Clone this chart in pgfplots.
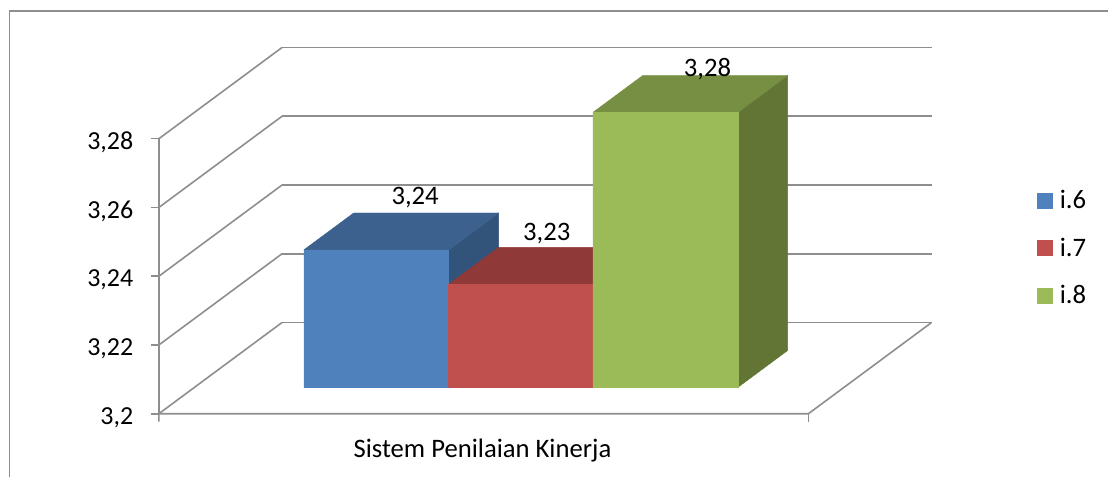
\documentclass[border=0pt]{standalone}
\usepackage{pgfplots}
\pgfplotsset{compat=1.18}
\usepackage{fontspec}
\setmainfont{Carlito}
\usetikzlibrary{calc}
\definecolor{gridc}{HTML}{8E8E8E}
\definecolor{blueF}{HTML}{4F81BD}\definecolor{blueT}{HTML}{3D618E}\definecolor{blueS}{HTML}{32547B}
\definecolor{redF}{HTML}{C0504D}\definecolor{redT}{HTML}{8F3938}\definecolor{redS}{HTML}{7A302E}
\definecolor{greenF}{HTML}{9BBB59}\definecolor{greenT}{HTML}{768F43}\definecolor{greenS}{HTML}{637535}
\begin{document}
\begin{tikzpicture}[x=0.75pt,y=0.75pt]
\begin{axis}[
  x={(0.75pt,0pt)}, y={(92.475pt,68.475pt)}, z={(0pt,2580pt)},
  xmin=0, xmax=650, ymin=0, ymax=1, zmin=3.2, zmax=3.28,
  clip=false,
  axis line style={draw=none},
  ytick=\empty,
  xtick=\empty,
  extra x ticks={324}, extra x tick labels={Sistem Penilaian Kinerja},
  extra x tick style={tick label style={xshift=6pt,yshift=-15.75pt}},
  ztick={3.2,3.22,3.24,3.26,3.28},
  zticklabels={{3,2},{3,22},{3,24},{3,26},{3,28}},
  z tick label style={font=\fontsize{19.5}{22}\selectfont,anchor=east,text height=13pt,text depth=3pt,inner xsep=0pt,xshift=-19pt,yshift=-3pt},
  zmajorgrids=true,
  grid style={gridc,line width=1.2pt},
  major tick length=0pt, tick pos=lower,
  tick label style={font=\fontsize{20}{22}\selectfont,text=black},
  legend style={draw=none, fill=none, font=\fontsize{20}{22}\selectfont,
    at={(axis cs:650,1,3.2)}, anchor=south west, row sep=16.4pt, inner sep=0pt,
    xshift=78.75pt, yshift=10.5pt, cells={anchor=west}},
  legend image code/.code={\fill[#1] (0pt,-5.6pt) rectangle (11.2pt,5.6pt);\path (14.95pt,0pt);},
  faceS/.style={fill=#1,draw=#1,line width=0.3pt,no marks,forget plot},
  faceF/.style={fill=#1,draw=#1,line width=0.3pt,no marks},
]
% walls and floor edges, tick marks
\addplot3[gridc,line width=1.2pt,no marks,forget plot] coordinates {(0,0,3.2)(0,0,3.28)};
\addplot3[gridc,line width=1.2pt,no marks,forget plot] coordinates {(0,0,3.1977)(0,0,3.2)(650,0,3.2)(650,1,3.2)};
\addplot3[gridc,line width=1.2pt,no marks,forget plot] coordinates {(650,0,3.2)(650,0,3.1977)};
\addplot3[gridc,line width=1.2pt,no marks,forget plot] coordinates {(-8,0,3.2)(0,0,3.2)};
\addplot3[gridc,line width=1.2pt,no marks,forget plot] coordinates {(-8,0,3.22)(0,0,3.22)};
\addplot3[gridc,line width=1.2pt,no marks,forget plot] coordinates {(-8,0,3.24)(0,0,3.24)};
\addplot3[gridc,line width=1.2pt,no marks,forget plot] coordinates {(-8,0,3.26)(0,0,3.26)};
\addplot3[gridc,line width=1.2pt,no marks,forget plot] coordinates {(-8,0,3.28)(0,0,3.28)};
% i.6
\addplot3[faceS=blueS] coordinates {(254.5,.288,3.2)(254.5,.693,3.2)(254.5,.693,3.24)(254.5,.288,3.24)(254.5,.288,3.2)};
\addplot3[faceS=blueT] coordinates {(109.5,.288,3.24)(254.5,.288,3.24)(254.5,.693,3.24)(109.5,.693,3.24)(109.5,.288,3.24)};
\addplot3[faceF=blueF] coordinates {(109.5,.288,3.2)(254.5,.288,3.2)(254.5,.288,3.24)(109.5,.288,3.24)(109.5,.288,3.2)};
\addlegendentry{i.6}
% i.7
\addplot3[faceS=redS] coordinates {(398.8,.288,3.2)(398.8,.693,3.2)(398.8,.693,3.23)(398.8,.288,3.23)(398.8,.288,3.2)};
\addplot3[faceS=redT] coordinates {(254.5,.288,3.23)(398.8,.288,3.23)(398.8,.693,3.23)(254.5,.693,3.23)(254.5,.288,3.23)};
\addplot3[faceF=redF] coordinates {(254.5,.288,3.2)(398.8,.288,3.2)(398.8,.288,3.23)(254.5,.288,3.23)(254.5,.288,3.2)};
\addlegendentry{i.7}
% i.8
\addplot3[faceS=greenS] coordinates {(543.8,.288,3.2)(543.8,.693,3.2)(543.8,.693,3.28)(543.8,.288,3.28)(543.8,.288,3.2)};
\addplot3[faceS=greenT] coordinates {(398.8,.288,3.28)(543.8,.288,3.28)(543.8,.693,3.28)(398.8,.693,3.28)(398.8,.288,3.28)};
\addplot3[faceF=greenF] coordinates {(398.8,.288,3.2)(543.8,.288,3.2)(543.8,.288,3.28)(398.8,.288,3.28)(398.8,.288,3.2)};
\addlegendentry{i.8}
\node[font=\fontsize{20}{22}\selectfont,xshift=10.5pt,yshift=25.5pt] at (axis cs:182,.49,3.24) {3,24};
\node[font=\fontsize{20}{22}\selectfont,xshift=0.5pt,yshift=24pt] at (axis cs:327,.49,3.23) {3,23};
\node[font=\fontsize{20}{22}\selectfont,xshift=13.2pt,yshift=19pt] at (axis cs:471,.49,3.28) {3,28};
\coordinate (O) at (axis cs:0,0,3.2);
\end{axis}
\draw[gridc,line width=1.2pt] ($(O)+(-149.5,-63)$) -- ($(O)+(-149.5,403)$) -- ($(O)+(950,403)$);
\useasboundingbox ($(O)+(-159,-63)$) rectangle ($(O)+(950,414)$);
\end{tikzpicture}
\end{document}
